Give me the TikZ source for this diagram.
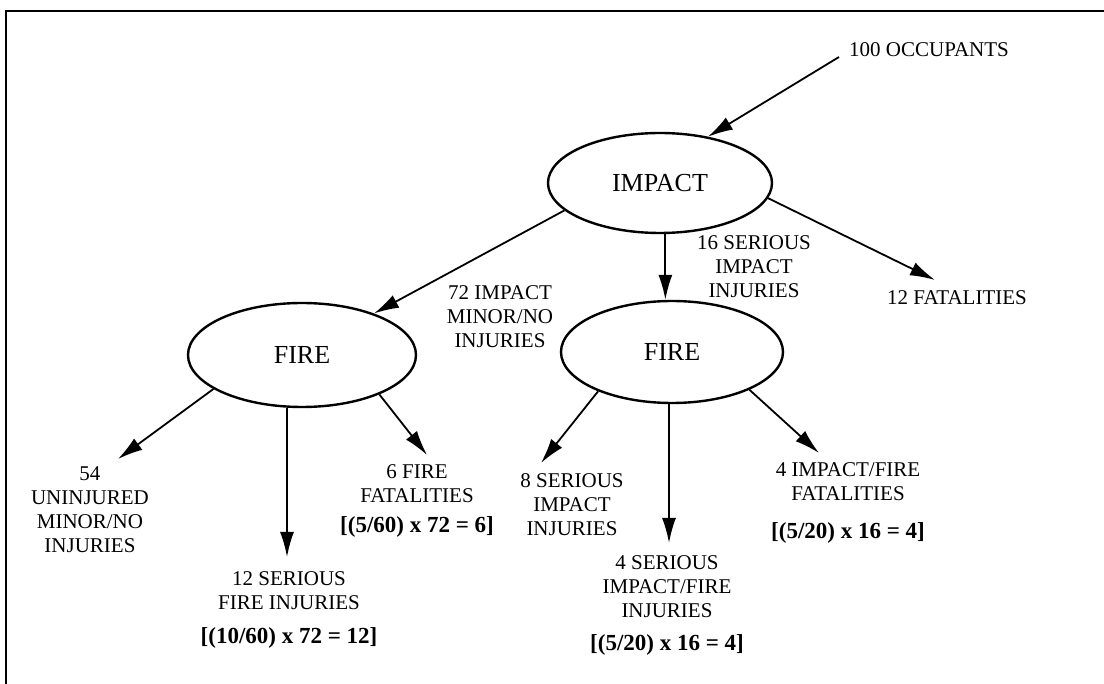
\documentclass[tikz,border=0pt]{standalone}
\usepackage{fontspec}
\setmainfont{Liberation Serif}
\usetikzlibrary{shapes.geometric,arrows.meta}
\begin{document}
\begin{tikzpicture}[x=1pt,y=-1pt,
  ell/.style={draw,ellipse,line width=2.4pt,inner sep=0pt,font=\fontsize{26}{30}\selectfont},
  lbl/.style={align=center,inner sep=0pt,font=\fontsize{21}{24}\selectfont},
  frm/.style={align=center,inner sep=0pt,font=\fontsize{23}{26}\selectfont\bfseries},
  arr/.style={line width=1.8pt,-{Latex[length=25pt,width=14pt]}},
  frame/.style={line width=2.4pt}]
\useasboundingbox (0,0) rectangle (1104,684);
\fill[white] (0,0) rectangle (1104,684);
\draw[frame] (6,690) -- (6,11) -- (1110,11);

% ellipses
\node[ell,minimum width=224pt,minimum height=100pt] (impact) at (660,183) {IMPACT};
\node[ell,minimum width=228pt,minimum height=104pt] (fireL) at (302,355) {FIRE};
\node[ell,minimum width=222pt,minimum height=102pt] (fireR) at (672,352) {FIRE};

% labels
\node[lbl,anchor=west] (occ) at (849,50) {100 OCCUPANTS};
\node[lbl] (ser16) at (754,267) {16 SERIOUS\\IMPACT\\INJURIES};
\node[lbl] (fat12) at (957,298) {12 FATALITIES};
\node[lbl] (min72) at (500,317) {72 IMPACT\\MINOR/NO\\INJURIES};
\node[lbl] (un54) at (90,510) {54\\UNINJURED\\MINOR/NO\\INJURIES};
\node[lbl] (ser12) at (289,591) {12 SERIOUS\\FIRE INJURIES};
\node[frm] (f12) at (289,638) {[(10/60) x 72 = 12]};
\node[lbl] (fat6) at (417,484) {6 FIRE\\FATALITIES};
\node[frm] (f6) at (417,527) {[(5/60) x 72 = 6]};
\node[lbl] (ser8) at (572,505) {8 SERIOUS\\IMPACT\\INJURIES};
\node[lbl] (ser4) at (667,587) {4 SERIOUS\\IMPACT/FIRE\\INJURIES};
\node[frm] (f4a) at (667,645) {[(5/20) x 16 = 4]};
\node[lbl] (fat4) at (848,482) {4 IMPACT/FIRE\\FATALITIES};
\node[frm] (f4b) at (848,533) {[(5/20) x 16 = 4]};

% free ends
\coordinate (c0) at (839,57);
\coordinate (t1) at (935,280);
\coordinate (t54) at (118,459);
\coordinate (t12) at (287,557);
\coordinate (t6) at (427,455);
\coordinate (t8) at (541,463);
\coordinate (t4a) at (669,543);
\coordinate (t4b) at (819,453);

% connectors
\draw[arr] (c0) -- (impact.44);
\draw[arr] (impact.196.5) -- (fireL.30);
\draw[arr] (impact.-84) -- (impact.-84 |- fireR.north);
\draw[arr] (impact.-8) -- (t1);
\draw[arr] (fireL.201.5) -- (t54);
\draw[arr] (t12 |- fireL.south) -- (t12);
\draw[arr] (fireL.-27) -- (t6);
\draw[arr] (fireR.208) -- (t8);
\draw[arr] (t4a |- fireR.south) -- (t4a);
\draw[arr] (fireR.-26.3) -- (t4b);
\end{tikzpicture}
\end{document}
